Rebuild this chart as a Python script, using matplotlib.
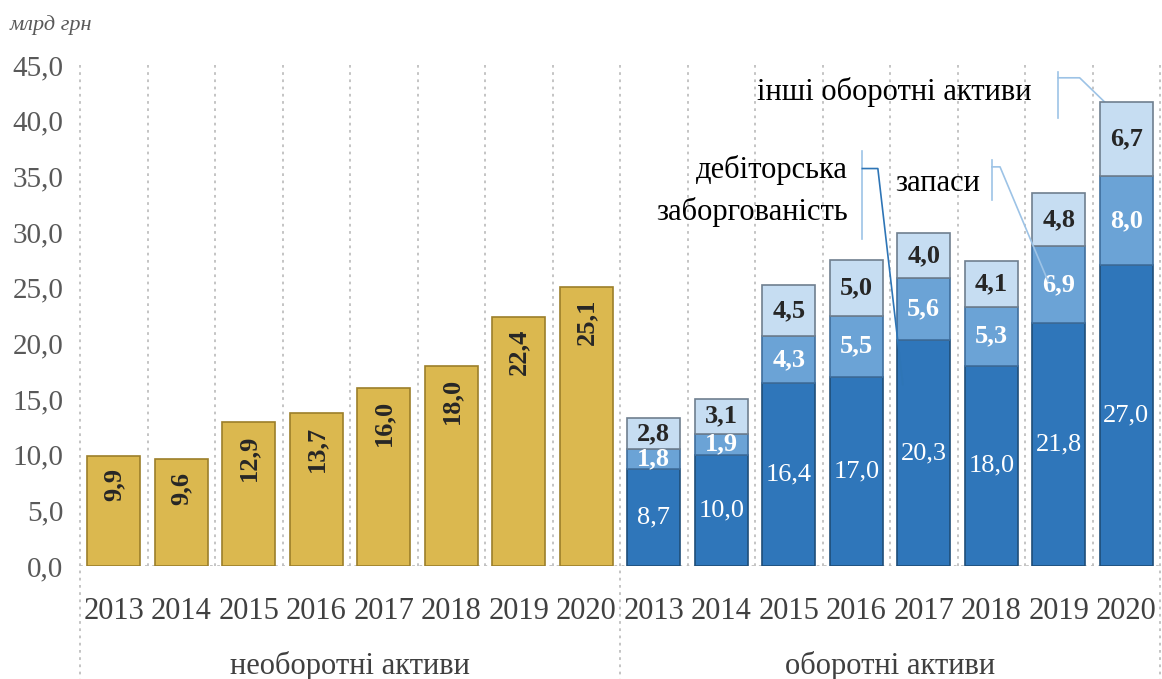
import matplotlib.pyplot as plt
import numpy as np

years = ["2013", "2014", "2015", "2016", "2017", "2018", "2019", "2020"]
noncurrent = [9.9, 9.6, 12.9, 13.7, 16.0, 18.0, 22.4, 25.1]
receivables = [8.7, 10.0, 16.4, 17.0, 20.3, 18.0, 21.8, 27.0]
inventories = [1.8, 1.9, 4.3, 5.5, 5.6, 5.3, 6.9, 8.0]
other = [2.8, 3.1, 4.5, 5.0, 4.0, 4.1, 4.8, 6.7]
groups = ["необоротні активи", "оборотні активи"]
yticks = [0, 5, 10, 15, 20, 25, 30, 35, 40, 45]

plt.rcParams['font.family'] = ['Liberation Serif', 'DejaVu Serif']

fig = plt.figure(figsize=(11.62, 6.79), dpi=100)
ax = fig.add_axes([80 / 1162, 1 - 566 / 679, 1080 / 1162, 501 / 679])

n = len(years)
x1 = np.arange(n)
x2 = np.arange(n) + n
w = 0.78

gold, gold_e = "#DBB84F", "#9C7F2A"
dark, dark_e = "#2F76BA", "#1F4E79"
mid, mid_e = "#6BA3D6", "#3F6E9C"
light, light_e = "#C6DDF2", "#6F7F8F"

ax.bar(x1, noncurrent, w, color=gold, edgecolor=gold_e, linewidth=1.2, zorder=3)
ax.bar(x2, receivables, w, color=dark, edgecolor=dark_e, linewidth=1.2, zorder=3)
b2 = np.array(receivables)
ax.bar(x2, inventories, w, bottom=b2, color=mid, edgecolor=mid_e, linewidth=1.2, zorder=3)
b3 = b2 + np.array(inventories)
ax.bar(x2, other, w, bottom=b3, color=light, edgecolor=light_e, linewidth=1.2, zorder=3)

def fmt(v):
    return f"{v:.1f}".replace(".", ",")

for xi, v in zip(x1, noncurrent):
    ax.annotate(fmt(v), (xi, v), xytext=(0, -9), textcoords="offset points",
                ha="center", va="top", rotation=90, fontsize=19,
                fontweight="bold", color="#262626", zorder=4)
for xi, v in zip(x2, receivables):
    ax.text(xi, v / 2, fmt(v), ha="center", va="center", fontsize=19,
            color="white", zorder=4)
for xi, b, v in zip(x2, b2, inventories):
    ax.text(xi, b + v / 2, fmt(v), ha="center", va="center", fontsize=19,
            fontweight="bold", color="white", zorder=4)
for xi, b, v in zip(x2, b3, other):
    ax.text(xi, b + v / 2, fmt(v), ha="center", va="center", fontsize=19,
            fontweight="bold", color="#262626", zorder=4)

ax.set_xlim(-0.5, 2 * n - 0.5)
ax.set_ylim(0, 45)
ax.set_yticks(yticks)
ax.set_yticklabels([fmt(t) for t in yticks], fontsize=21, color="#595959")
ax.set_xticks(np.concatenate([x1, x2]))
ax.set_xticklabels(years + years, fontsize=22, color="#404040")
ax.tick_params(length=0, axis="x", pad=22)
ax.tick_params(length=0, axis="y", pad=12)
for s in ax.spines.values():
    s.set_visible(False)

# dotted grid between categories
grid_kw = dict(color="#BFBFBF", linestyle=(0, (1.5, 2.5)), linewidth=1.3)
for b in np.arange(-0.5, 2 * n, 1.0):
    if b in (-0.5, n - 0.5, 2 * n - 0.5):
        ax.plot([b, b], [45, -10.15], clip_on=False, zorder=1, **grid_kw)
    else:
        ax.plot([b, b], [0, 45], zorder=1, **grid_kw)
ax.plot([-0.5, 2 * n - 0.5], [0, 0], zorder=2, **grid_kw)

ax.text((n - 1) / 2, -9.0, groups[0], ha="center", va="center", fontsize=22, color="#404040")
ax.text(n + (n - 1) / 2, -9.0, groups[1], ha="center", va="center", fontsize=22, color="#404040")

fig.text(10 / 1162, 1 - 25 / 679, "млрд грн", fontsize=16, style="italic",
         color="#595959", ha="left", va="center")

# series callouts
lc = "#9DC3E6"
ax.text(13.60, 42.6, "інші оборотні активи", ha="right", va="center", fontsize=22, color="black")
ax.plot([13.99, 13.99], [44.4, 40.25], color=lc, lw=1.2, clip_on=False)
ax.plot([13.99, 14.31, 14.88], [43.85, 43.85, 40.5], color=lc, lw=1.2, clip_on=False)

ax.text(12.83, 34.4, "запаси", ha="right", va="center", fontsize=22, color="black")
ax.plot([13.01, 13.01], [36.5, 32.9], color=lc, lw=1.2)
ax.plot([13.01, 13.13, 13.84], [35.85, 35.85, 25.6], color=lc, lw=1.2, zorder=5)

ax.text(10.88, 35.6, "дебіторська", ha="right", va="center", fontsize=22, color="black")
ax.text(10.88, 31.8, "заборгованість", ha="right", va="center", fontsize=22, color="black")
ax.plot([11.09, 11.09], [37.3, 29.4], color=lc, lw=1.2)
ax.plot([11.09, 11.32, 11.69], [35.7, 35.7, 16.3], color="#2E75B6", lw=1.2, zorder=5)

fig.savefig("out.png", dpi=100)
